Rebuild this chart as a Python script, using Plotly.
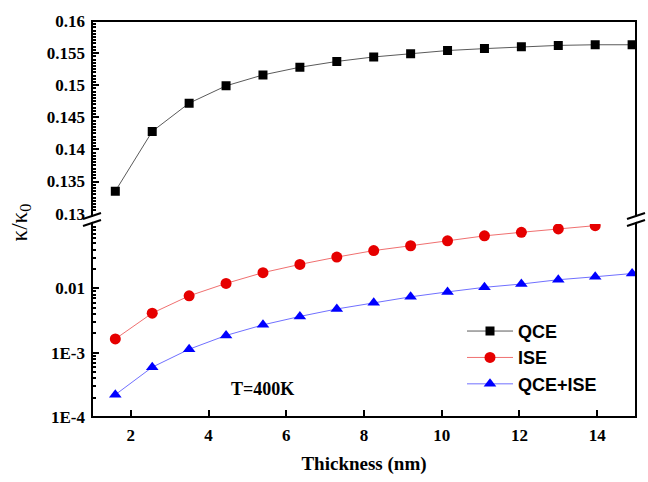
import plotly.graph_objects as go

# ---------------- data ----------------
thickness = [1.6, 2.55, 3.5, 4.45, 5.4, 6.35, 7.3, 8.25, 9.2, 10.15, 11.1, 12.05, 13.0, 13.95, 14.9]
qce = [0.1335, 0.1428, 0.1472, 0.1499, 0.1516, 0.1528, 0.1537, 0.1544, 0.1549, 0.1554,
       0.1557, 0.1560, 0.1562, 0.1563, 0.1563]
ise = [1.63e-3, 4.11e-3, 7.62e-3, 0.0119, 0.0175, 0.0235, 0.0305, 0.0385, 0.0458, 0.0546,
       0.0652, 0.0741, 0.0834, 0.094]
qce_ise = [2.22e-4, 5.94e-4, 1.13e-3, 1.85e-3, 2.70e-3, 3.65e-3, 4.77e-3, 5.97e-3, 7.36e-3,
           8.79e-3, 0.01035, 0.01164, 0.01358, 0.0151, 0.01695]

x_ticks = [2, 4, 6, 8, 10, 12, 14]
top_ticks = [0.13, 0.135, 0.14, 0.145, 0.15, 0.155, 0.16]
top_ticktext = ["0.13", "0.135", "0.14", "0.145", "0.15", "0.155", "0.16"]
log_ticks = [1e-4, 1e-3, 1e-2]
log_ticktext = ["1E-4", "1E-3", "0.01"]

# ---------------- figure ----------------
W, H = 648, 482
ML, MR, MT, MB = 92, 12, 17, 62
plot_w = W - ML - MR
plot_h = H - MT - MB

def py(pix):  # pixel y (from top) -> paper
    return (H - MB - pix) / plot_h

def px(pix):  # pixel x -> paper
    return (pix - ML) / plot_w

serif = "Liberation Serif"
sans = "Liberation Sans"

fig = go.Figure()
fig.add_trace(go.Scatter(x=thickness, y=qce, name="QCE", mode="lines+markers",
                         line=dict(color="#5a5a5a", width=1),
                         marker=dict(symbol="square", size=9, color="black"),
                         xaxis="x", yaxis="y2"))
fig.add_trace(go.Scatter(x=thickness[:len(ise)], y=ise, name="ISE", mode="lines+markers",
                         line=dict(color="#f07070", width=1),
                         marker=dict(symbol="circle", size=11, color="#e60000"),
                         xaxis="x", yaxis="y"))
fig.add_trace(go.Scatter(x=thickness, y=qce_ise, name="QCE+ISE", mode="lines+markers",
                         line=dict(color="#7070ff", width=1),
                         marker=dict(symbol="triangle-up", size=11, color="#0000ff"),
                         xaxis="x", yaxis="y"))

tickfont = dict(family=serif, size=17, color="black", weight="bold")

bot_top = py(223.5)
top_bot = py(213)

fig.update_layout(
    width=W, height=H,
    margin=dict(l=ML, r=MR, t=MT, b=MB),
    plot_bgcolor="white", paper_bgcolor="white",
    showlegend=True,
    legend=dict(x=px(462), y=py(314), xanchor="left", yanchor="top",
                font=dict(family=sans, size=18, color="black", weight="bold"),
                bgcolor="rgba(0,0,0,0)", tracegroupgap=0, itemwidth=46),
    xaxis=dict(range=[1, 15], tickvals=x_ticks, ticks="inside", ticklen=7, tickwidth=2,
               tickcolor="black", showgrid=False, zeroline=False, showline=False,
               tickfont=tickfont, anchor="y", ticklabelstandoff=6,
               title=dict(text="Thickness (nm)", standoff=12,
                          font=dict(family=serif, size=19, color="black", weight="bold"))),
    yaxis=dict(type="log", range=[-4, -1], domain=[0, bot_top], tickvals=log_ticks,
               ticktext=log_ticktext, ticks="inside", ticklen=7, tickwidth=2,
               tickcolor="black", showgrid=False, zeroline=False, showline=False,
               tickfont=tickfont, anchor="x", ticklabelstandoff=6,
               minor=dict(ticks="inside", ticklen=4, tickwidth=1.5, tickcolor="black",
                          dtick="D1", showgrid=False)),
    yaxis2=dict(range=[0.13, 0.16], domain=[top_bot, 1], tickvals=top_ticks,
                ticktext=top_ticktext, ticks="inside", ticklen=7, tickwidth=2,
                tickcolor="black", showgrid=False, zeroline=False, showline=False,
                tickfont=tickfont, anchor="x", ticklabelstandoff=6,
                minor=dict(ticks="inside", ticklen=4, tickwidth=1.5, tickcolor="black",
                           dtick=0.0005, showgrid=False)),
)

shapes = [dict(type="rect", xref="paper", yref="paper", x0=0, x1=1, y0=0, y1=1,
               line=dict(color="black", width=2), fillcolor="rgba(0,0,0,0)", layer="above")]
brk = py(219)
for xa in (0, 1):
    shapes.append(dict(type="line", xref="paper", yref="paper", xsizemode="pixel",
                       ysizemode="pixel", xanchor=xa, yanchor=brk,
                       x0=-9, x1=9, y0=-3, y1=3, line=dict(color="white", width=5),
                       layer="above"))
    for off in (-3.5, 3.5):
        shapes.append(dict(type="line", xref="paper", yref="paper", xsizemode="pixel",
                           ysizemode="pixel", xanchor=xa, yanchor=brk,
                           x0=-9, x1=9, y0=-3 + off, y1=3 + off,
                           line=dict(color="black", width=2), layer="above"))
fig.update_layout(shapes=shapes)

fig.add_annotation(text="T=400K", xref="paper", yref="paper", x=px(262), y=py(392),
                   showarrow=False, xanchor="center", yanchor="middle",
                   font=dict(family=serif, size=18, color="black", weight="bold"))
fig.add_annotation(text="κ/κ<sub>0</sub>", xref="paper", yref="paper",
                   x=px(21), y=py(222), textangle=-90,
                   showarrow=False, xanchor="center", yanchor="middle",
                   font=dict(family=serif, size=23, color="black"))

fig.write_html("out.html")
